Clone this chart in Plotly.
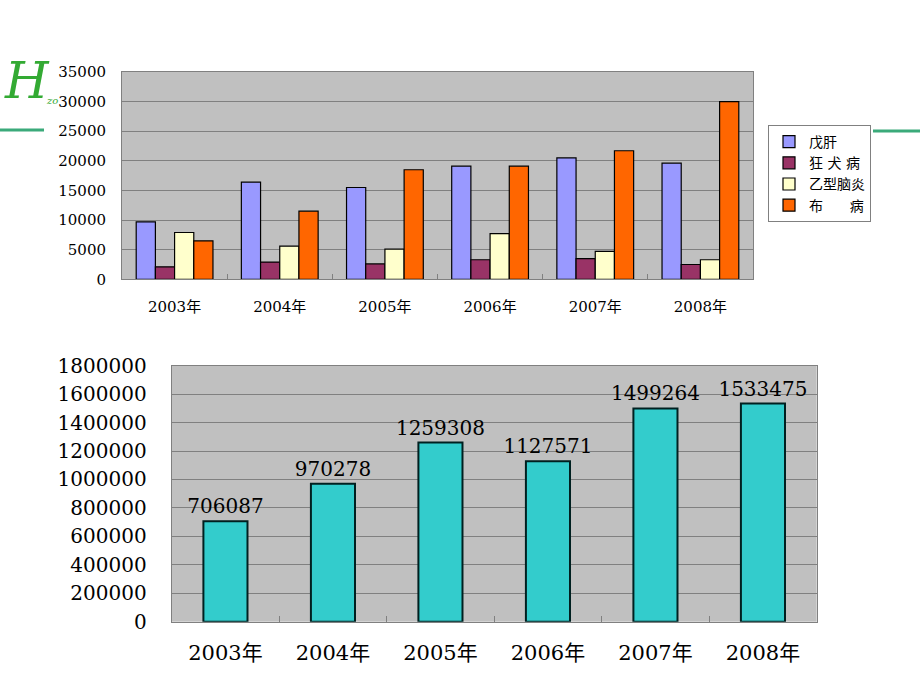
import plotly.graph_objects as go

years = ["2003年", "2004年", "2005年", "2006年", "2007年", "2008年"]
hep_e = [9700, 16400, 15500, 19100, 20500, 19600]
rabies = [2100, 2900, 2600, 3300, 3500, 2500]
jap_enc = [7900, 5600, 5100, 7700, 4700, 3300]
brucellosis = [6500, 11500, 18500, 19100, 21700, 30000]
series_names = ["戊肝", "狂 犬 病", "乙型脑炎", "布      病"]
series_colors = ["#9999FF", "#993366", "#FFFFCC", "#FF6600"]

totals = [706087, 970278, 1259308, 1127571, 1499264, 1533475]

W, H = 920, 690
def px_x(v):
    return v / W
def px_y(v):
    return 1 - v / H

SERIF = "DejaVu Serif, Noto Sans CJK SC, serif"

fig = go.Figure()

for name, vals, col in zip(series_names, [hep_e, rabies, jap_enc, brucellosis], series_colors):
    fig.add_trace(go.Bar(
        x=years, y=vals, name=name, xaxis="x", yaxis="y",
        marker=dict(color=col, line=dict(color="#000000", width=1.2)),
    ))

fig.add_trace(go.Bar(
    x=years, y=totals, xaxis="x2", yaxis="y2", showlegend=False,
    width=0.41,
    marker=dict(color="#33CCCC", line=dict(color="#002020", width=2)),
    text=[str(v) for v in totals], textposition="outside",
    constraintext="none",
    textfont=dict(family=SERIF, size=20, color="#000000"),
    cliponaxis=False,
))

axis_common = dict(showline=True, linecolor="#808080", linewidth=1, mirror=True,
                   zeroline=False, fixedrange=True, automargin=False)

fig.update_layout(
    width=W, height=H,
    margin=dict(l=0, r=0, t=0, b=0, autoexpand=False),
    paper_bgcolor="#FFFFFF",
    plot_bgcolor="#C0C0C0",
    barmode="group",
    bargap=0.27,
    bargroupgap=0,
    font=dict(family=SERIF, color="#000000"),
    xaxis=dict(domain=[px_x(122), px_x(753)], anchor="y",
               ticks="inside", tickson="boundaries", ticklen=5, tickcolor="#808080",
               tickfont=dict(family=SERIF, size=15), ticklabelstandoff=14,
               **axis_common),
    yaxis=dict(domain=[px_y(279.3), px_y(72)], anchor="x",
               range=[0, 35000], dtick=5000, tickformat="d",
               showgrid=True, gridcolor="#808080", gridwidth=1,
               ticks="", tickfont=dict(family=SERIF, size=15), ticklabelstandoff=12,
               **axis_common),
    xaxis2=dict(domain=[px_x(171.7), px_x(816.7)], anchor="y2",
                ticks="inside", tickson="boundaries", ticklen=6, tickcolor="#808080",
                tickfont=dict(family=SERIF, size=21), ticklabelstandoff=12,
                **axis_common),
    yaxis2=dict(domain=[px_y(621.7), px_y(365.7)], anchor="x2",
                range=[0, 1800000], dtick=200000, tickformat="d",
                showgrid=True, gridcolor="#808080", gridwidth=1,
                ticks="", tickfont=dict(family=SERIF, size=20), ticklabelstandoff=20,
                **axis_common),
    legend=dict(x=px_x(768), y=px_y(125), xanchor="left", yanchor="top",
                bgcolor="#FFFFFF", bordercolor="#808080", borderwidth=1,
                font=dict(family=SERIF, size=14, color="#000000"),
                itemwidth=30,
                tracegroupgap=0, itemclick=False, itemdoubleclick=False),
    showlegend=True,
)

# decorative slide elements
fig.add_shape(type="line", xref="paper", yref="paper",
              x0=0, x1=px_x(44), y0=px_y(130), y1=px_y(130),
              line=dict(color="#3BAA7A", width=3))
fig.add_shape(type="line", xref="paper", yref="paper",
              x0=px_x(873), x1=1, y0=px_y(131), y1=px_y(131),
              line=dict(color="#3BAA7A", width=3))
fig.add_annotation(xref="paper", yref="paper", x=px_x(2), y=px_y(50),
                   xanchor="left", yanchor="top",
                   text="H", showarrow=False,
                   font=dict(family="DejaVu Serif", size=50, color="#33AA33", style="italic"))
fig.add_annotation(xref="paper", yref="paper", x=px_x(44), y=px_y(93),
                   xanchor="left", yanchor="top",
                   text="zo", showarrow=False,
                   font=dict(family="DejaVu Serif", size=10, color="#33AA33", style="italic"))

fig.write_html("out.html",
               config={"displayModeBar": False},
               post_script="document.body.style.margin='0';document.body.style.overflow='hidden';")
